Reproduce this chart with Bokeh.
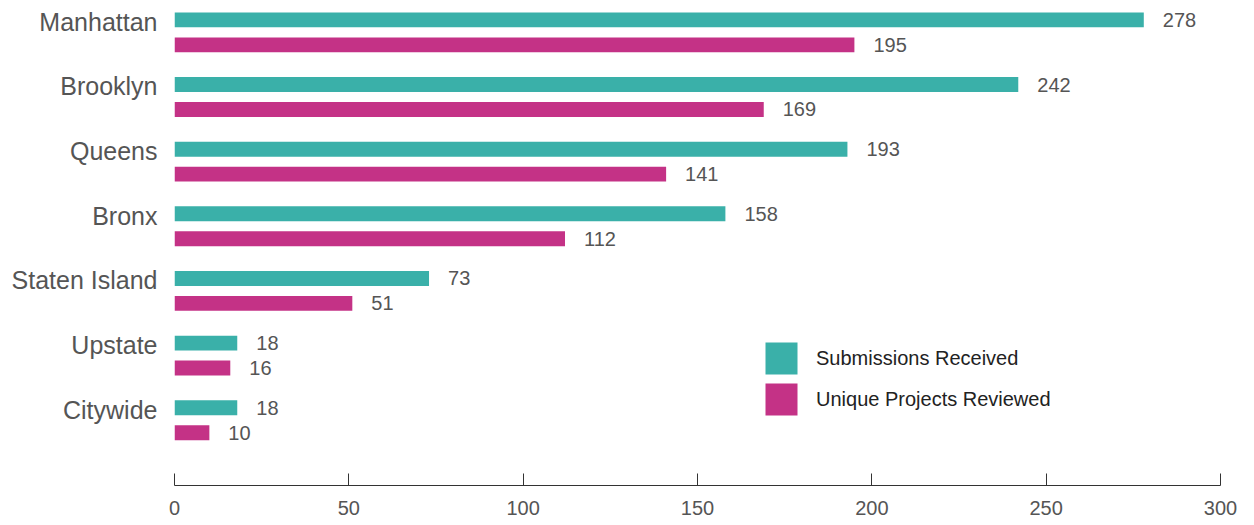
from bokeh.plotting import figure
from bokeh.models import ColumnDataSource, FixedTicker, Range1d, Legend, LegendItem
from bokeh.embed import file_html
from bokeh.resources import INLINE
from bokeh.core.properties import value

categories = ["Manhattan", "Brooklyn", "Queens", "Bronx", "Staten Island", "Upstate", "Citywide"]
submissions = [278, 242, 193, 158, 73, 18, 18]
reviewed = [195, 169, 141, 112, 51, 16, 10]
x_ticks = [0, 50, 100, 150, 200, 250, 300]
series_names = ["Submissions Received", "Unique Projects Reviewed"]

TEAL = "#3AB0A9"
MAGENTA = "#C43286"
FONT = "Liberation Sans"

n = len(categories)
ypos = [n - 1 - i for i in range(n)]
gap = 0.386
src1 = ColumnDataSource(dict(y=ypos, x=submissions, t=[str(v) for v in submissions]))
src2 = ColumnDataSource(dict(y=[v - gap for v in ypos], x=reviewed, t=[str(v) for v in reviewed]))

p = figure(width=1238, height=517, output_backend="svg", toolbar_location=None,
           x_range=Range1d(0, 300), y_range=Range1d(-1.203, 6.30),
           min_border_left=174, min_border_right=18, min_border_top=0, min_border_bottom=31)
p.outline_line_color = None
p.xgrid.visible = False
p.ygrid.visible = False
p.background_fill_color = "white"

bh = 0.231
r1 = p.hbar(y="y", right="x", left=0, height=bh, source=src1, color=TEAL, line_color=None)
r2 = p.hbar(y="y", right="x", left=0, height=bh, source=src2, color=MAGENTA, line_color=None)

for s in (src1, src2):
    p.text(x="x", y="y", text="t", source=s, x_offset=19, text_baseline="middle", text_align="left",
           text_font=value(FONT), text_font_size="20px", text_color="#555555")

# x axis
xa = p.xaxis[0]
xa.ticker = FixedTicker(ticks=x_ticks)
xa.axis_line_color = "#333333"
xa.major_tick_line_color = "#333333"
xa.major_tick_in = 12
xa.major_tick_out = 0
xa.minor_tick_line_color = None
xa.major_label_standoff = 15
xa.major_label_text_font = FONT
xa.major_label_text_font_size = "20px"
xa.major_label_text_color = "#555555"

# y axis
label_ticks = [v - 0.03 for v in ypos]
ya = p.yaxis[0]
ya.ticker = FixedTicker(ticks=label_ticks)
ya.major_label_overrides = {t: c for t, c in zip(label_ticks, categories)}
ya.axis_line_color = None
ya.major_tick_line_color = None
ya.minor_tick_line_color = None
ya.major_tick_in = 0
ya.major_tick_out = 0
ya.major_label_standoff = 17
ya.major_label_text_font = FONT
ya.major_label_text_font_size = "25px"
ya.major_label_text_color = "#555555"

legend = Legend(items=[LegendItem(label=series_names[0], renderers=[r1]),
                       LegendItem(label=series_names[1], renderers=[r2])],
                location=(587, 66), glyph_width=40, glyph_height=40, spacing=1,
                label_standoff=15, padding=0, margin=0, border_line_color=None,
                background_fill_alpha=0, label_text_font=FONT, label_text_font_size="20px",
                label_text_color="#222222", label_height=40)
p.add_layout(legend, "center")

open("out.html", "w").write(file_html(p, INLINE))
